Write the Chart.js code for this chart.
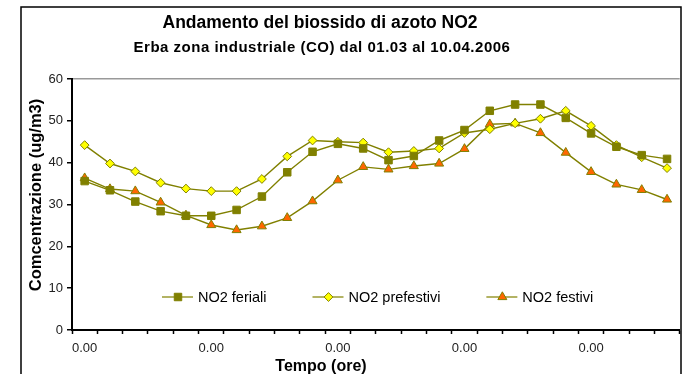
<!DOCTYPE html>
<html>
<head>
<meta charset="utf-8">
<script src="https://cdn.jsdelivr.net/npm/chart.js@4.4.0/dist/chart.umd.min.js"></script>
<style>
  html, body { margin: 0; padding: 0; background: #ffffff; }
  #wrap { width: 686px; height: 374px; position: relative; }
</style>
</head>
<body>
<div id="wrap"><canvas id="c" width="686" height="374"></canvas></div>
<script>
// Hourly averages of NO2 (ug/m3), Erba zona industriale, 01.03 - 10.04.2006
const hourLabels = [
  '0.00','0.00','0.00','0.00','0.00','0.00','0.00','0.00','0.00','0.00','0.00','0.00',
  '0.00','0.00','0.00','0.00','0.00','0.00','0.00','0.00','0.00','0.00','0.00','0.00'
];
const no2Feriali = [35.6, 33.4, 30.7, 28.4, 27.3, 27.3, 28.7, 31.9, 37.7, 42.6, 44.5, 43.4,
                    40.6, 41.6, 45.3, 47.8, 52.4, 53.9, 53.9, 50.7, 47.0, 43.8, 41.8, 40.9];
const no2Prefestivi = [44.2, 39.8, 37.9, 35.2, 33.8, 33.2, 33.2, 36.1, 41.5, 45.3, 45.0, 44.8,
                       42.5, 42.8, 43.4, 47.1, 48.0, 49.4, 50.5, 52.4, 48.8, 44.2, 41.3, 38.7];
const no2Festivi = [36.3, 33.7, 33.2, 30.5, 27.4, 25.1, 23.9, 24.8, 26.8, 30.8, 35.8, 39.0,
                    38.4, 39.2, 39.8, 43.3, 49.2, 49.4, 47.1, 42.4, 37.8, 34.8, 33.5, 31.2];
const yTicks = [0, 10, 20, 30, 40, 50, 60];

const FONT = '"Liberation Sans", Arial, sans-serif';
const OLIVE = '#808000';

function drawMarker(ctx, style, x, y, r, fill, stroke) {
  ctx.save();
  ctx.beginPath();
  if (style === 'rect') {
    const s = Math.SQRT1_2 * r;
    ctx.rect(x - s, y - s, 2 * s, 2 * s);
  } else if (style === 'rectRot') {
    ctx.moveTo(x, y - r); ctx.lineTo(x + r, y); ctx.lineTo(x, y + r); ctx.lineTo(x - r, y);
    ctx.closePath();
  } else {
    const w = r * Math.sqrt(3) / 2;
    ctx.moveTo(x, y - r); ctx.lineTo(x + w, y + r / 2); ctx.lineTo(x - w, y + r / 2);
    ctx.closePath();
  }
  ctx.fillStyle = fill; ctx.fill();
  ctx.lineWidth = 1; ctx.strokeStyle = stroke; ctx.stroke();
  ctx.restore();
}

// Frame, titles, axis titles and the in-plot legend
const decorations = {
  id: 'decorations',
  afterDraw(chart) {
    const ctx = chart.ctx;
    ctx.save();
    // outer frame
    ctx.strokeStyle = '#000'; ctx.lineWidth = 1.5;
    ctx.strokeRect(21, 7, 660, 420);
    // titles
    ctx.fillStyle = '#000';
    ctx.textAlign = 'center'; ctx.textBaseline = 'middle';
    ctx.font = 'bold 17.5px ' + FONT;
    ctx.fillText('Andamento del biossido di azoto NO2', 320, 23);
    ctx.font = 'bold 15px ' + FONT;
    ctx.letterSpacing = '0.5px';
    ctx.fillText('Erba zona industriale (CO) dal 01.03 al 10.04.2006', 322, 48);
    ctx.letterSpacing = '0px';
    // axis titles
    ctx.font = 'bold 16px ' + FONT;
    ctx.fillText('Tempo (ore)', 321, 367);
    ctx.save();
    ctx.translate(36, 195); ctx.rotate(-Math.PI / 2);
    ctx.font = 'bold 16.5px ' + FONT;
    ctx.fillText('Comcentrazione (ug/m3)', 0, 0);
    ctx.restore();
    // legend
    ctx.font = '14.5px ' + FONT;
    ctx.textAlign = 'left';
    let x = 162;
    const y = 297;
    chart.data.datasets.forEach(ds => {
      ctx.beginPath();
      ctx.strokeStyle = '#9a9a30'; ctx.lineWidth = 1.5;
      ctx.moveTo(x, y); ctx.lineTo(x + 31, y); ctx.stroke();
      drawMarker(ctx, ds.pointStyle, x + 16, y, ds.pointRadius, ds.pointBackgroundColor, ds.pointBorderColor);
      ctx.fillStyle = '#000';
      ctx.fillText(ds.label, x + 36, y + 1);
      x += 36 + ctx.measureText(ds.label).width + 46;
    });
    ctx.restore();
  }
};

new Chart(document.getElementById('c'), {
  type: 'line',
  data: {
    labels: hourLabels,
    datasets: [
      { label: 'NO2 feriali', data: no2Feriali, borderColor: OLIVE, borderWidth: 1.4,
        pointStyle: 'rect', pointRadius: 5.3, pointBackgroundColor: OLIVE, pointBorderColor: OLIVE,
        pointBorderWidth: 1, tension: 0 },
      { label: 'NO2 prefestivi', data: no2Prefestivi, borderColor: OLIVE, borderWidth: 1.4,
        pointStyle: 'rectRot', pointRadius: 4.4, pointBackgroundColor: '#ffff00', pointBorderColor: OLIVE,
        pointBorderWidth: 1, tension: 0 },
      { label: 'NO2 festivi', data: no2Festivi, borderColor: OLIVE, borderWidth: 1.4,
        pointStyle: 'triangle', pointRadius: 5.2, pointBackgroundColor: '#ff6600', pointBorderColor: OLIVE,
        pointBorderWidth: 1, tension: 0 }
    ]
  },
  options: {
    responsive: false,
    animation: false,
    devicePixelRatio: 1,
    layout: { padding: { left: 0, right: 4, top: 79, bottom: 0 } },
    plugins: { legend: { display: false }, title: { display: false }, tooltip: { enabled: false } },
    scales: {
      x: {
        offset: true,
        grid: { offset: true, drawOnChartArea: false, tickLength: 4, tickColor: '#000', tickWidth: 1.5 },
        border: { color: '#000', width: 2 },
        ticks: {
          autoSkip: false, maxRotation: 0, padding: 7, color: '#222',
          font: { family: FONT, size: 13 },
          callback: (v, i) => (i % 5 === 0 ? hourLabels[i] : '')
        },
        afterFit: s => { s.height = 44; }
      },
      y: {
        min: 0, max: 60,
        afterBuildTicks: s => { s.ticks = yTicks.map(v => ({ value: v })); },
        grid: {
          color: c => (c.tick && c.tick.value === 60 ? '#999999' : 'rgba(0,0,0,0)'),
          lineWidth: 1.5, tickLength: 5, tickColor: '#000', tickWidth: 1.5
        },
        border: { color: '#000', width: 2 },
        ticks: { padding: 4, color: '#222', font: { family: FONT, size: 13 } },
        afterFit: s => { s.width = 72; }
      }
    }
  },
  plugins: [decorations]
});
</script>
</body>
</html>
